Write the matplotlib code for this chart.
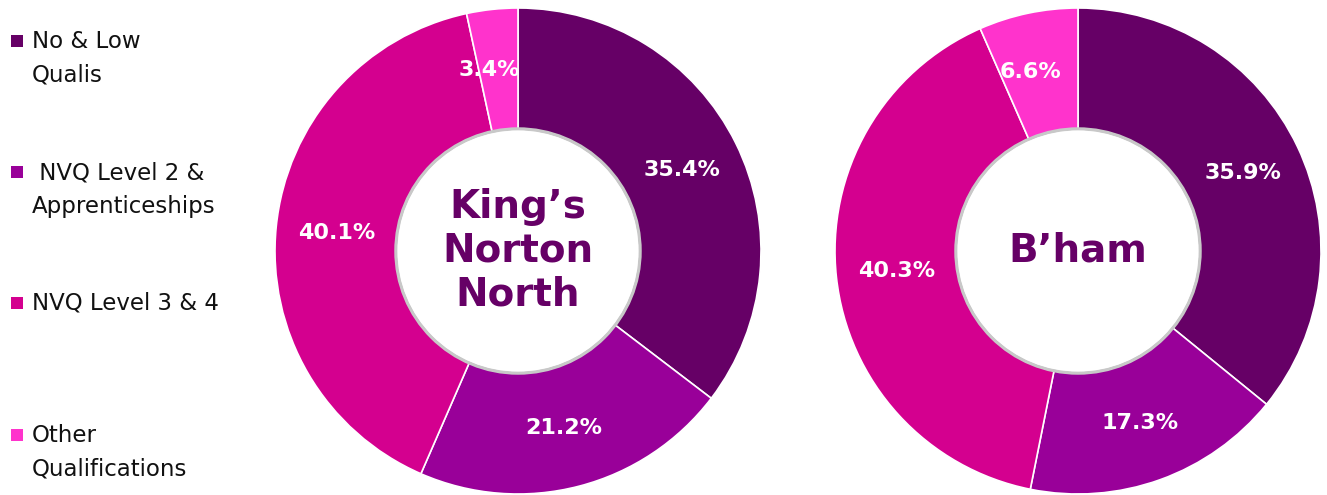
import numpy as np
import matplotlib.pyplot as plt
from matplotlib.patches import Rectangle, Circle

# data
categories = ['No & Low\nQualis', ' NVQ Level 2 &\nApprenticeships', 'NVQ Level 3 & 4', 'Other\nQualifications']
knn_values = [35.4, 21.2, 40.1, 3.4]
bham_values = [35.9, 17.3, 40.3, 6.6]
titles = ['King\u2019s\nNorton\nNorth', 'B\u2019ham']
colors = ['#660066', '#990099', '#D4008F', '#FF33CC']

W, H = 1327, 495
fig = plt.figure(figsize=(W / 100, H / 100), dpi=100)
fig.patch.set_facecolor('white')

R = 243
inner = 122


def donut(cx, cy, values, title, title_size):
    ax = fig.add_axes([(cx - R) / W, (H - cy - R) / H, 2 * R / W, 2 * R / H])
    w = 1 - inner / R
    wedges, _ = ax.pie(values, colors=colors, startangle=90, counterclock=False,
                       radius=1, wedgeprops=dict(width=w, edgecolor='white', linewidth=1.2))
    ax.set_xlim(-1, 1)
    ax.set_ylim(-1, 1)
    ax.set_aspect('equal')
    ax.axis('off')
    # soft edge round the hole
    ax.add_patch(Circle((0, 0), inner / R, facecolor='white', edgecolor='#c8c8c8', linewidth=2.5, zorder=3))
    ax.add_patch(Circle((0, 0), inner / R - 0.006, facecolor='white', edgecolor='none', zorder=4))
    mid = (1 + inner / R) / 2
    for wd, v in zip(wedges, values):
        ang = np.deg2rad((wd.theta1 + wd.theta2) / 2)
        x, y = mid * np.cos(ang), mid * np.sin(ang)
        if v < 10:
            x -= 0.04
        ax.text(x, y, f'{v:.1f}%', ha='center', va='center', color='white',
                fontsize=16, fontweight='bold', zorder=5)
    ax.text(0, 0, title, ha='center', va='center', color='#660066', fontsize=title_size,
            fontweight='bold', linespacing=1.2, zorder=5)


donut(518, 251, knn_values, titles[0], 28)
donut(1078, 251, bham_values, titles[1], 28)

# legend
marker_y = [41, 172, 303, 435]
for lab, col, my in zip(categories, colors, marker_y):
    fig.patches.append(Rectangle((11 / W, (H - my - 6) / H), 12 / W, 12 / H,
                                 transform=fig.transFigure, facecolor=col, edgecolor='none'))
    fig.text(32 / W, (H - my + 11) / H, lab, ha='left', va='top', fontsize=16.5,
             color='#111111', linespacing=1.6)

fig.savefig('out.png', dpi=100, facecolor='white')
